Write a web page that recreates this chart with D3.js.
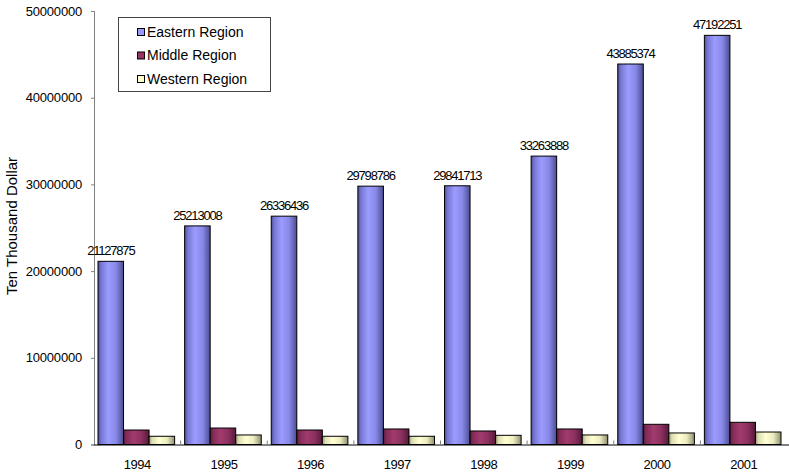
<!DOCTYPE html>
<html>
<head>
<meta charset="utf-8">
<script src="https://cdn.jsdelivr.net/npm/d3@7"></script>
<style>
  html, body { margin: 0; padding: 0; background: #fff; }
  svg { display: block; font-family: "Liberation Sans", Arial, sans-serif; }
</style>
</head>
<body>
<svg id="chart" width="789" height="475"></svg>
<script>
const years = ["1994", "1995", "1996", "1997", "1998", "1999", "2000", "2001"];
const seriesNames = ["Eastern Region", "Middle Region", "Western Region"];
const eastern = [21127875, 25213008, 26336436, 29798786, 29841713, 33263888, 43885374, 47192251];
const middle  = [1670000, 1900000, 1670000, 1790000, 1560000, 1790000, 2330000, 2560000];
const western = [950000, 1100000, 950000, 950000, 1060000, 1100000, 1330000, 1440000];
const yTicks = [0, 10000000, 20000000, 30000000, 40000000, 50000000];
const yTitle = "Ten Thousand Dollar";

(function () {
const seriesValues = [eastern, middle, western];
const baseColors = ["#9999FF", "#993366", "#FFFFCC"];
const gradStops = [
  [["0%", "#4f4f96"], ["12%", "#7676d2"], ["40%", "#9c9cff"], ["70%", "#8888e8"], ["100%", "#4c4c92"]],
  [["0%", "#5c1c3c"], ["12%", "#832c58"], ["40%", "#a23b6e"], ["70%", "#8c3060"], ["100%", "#571a39"]],
  [["0%", "#9a9a7a"], ["12%", "#dedeb4"], ["40%", "#ffffd2"], ["70%", "#ececc0"], ["100%", "#8e8e70"]]
];

const svg = d3.select("#chart");
const mLeft = 94, mRight = 787, mTop = 11, mBottom = 444.5;

const x = d3.scaleBand().domain(years).range([mLeft, mRight]).padding(0);
const xs = d3.scaleBand().domain(seriesNames).range([4, x.bandwidth() - 6]).padding(0);
const y = d3.scaleLinear().domain([0, 50000000]).range([mBottom, mTop]);

const defs = svg.append("defs");
seriesNames.forEach((s, i) => {
  const g = defs.append("linearGradient").attr("id", "grad" + i)
    .attr("x1", "0%").attr("x2", "100%").attr("y1", "0%").attr("y2", "0%");
  gradStops[i].forEach(st => g.append("stop").attr("offset", st[0]).attr("stop-color", st[1]));
});

// Y axis
const yAxis = d3.axisLeft(y).tickValues(yTicks).tickSize(3).tickPadding(9).tickFormat(d3.format("d"));
const ya = svg.append("g").attr("transform", `translate(${mLeft},0)`).call(yAxis);
ya.select(".domain").attr("stroke", "#808080");
ya.selectAll(".tick line").attr("stroke", "#808080");
ya.selectAll(".tick text").attr("font-size", "13px").attr("letter-spacing", "-0.2px").attr("fill", "#000")
  .attr("font-family", "'Liberation Sans', Arial, sans-serif");

// Y title
svg.append("text")
  .attr("transform", `translate(17,226) rotate(-90)`)
  .attr("text-anchor", "middle")
  .attr("font-size", "15px")
  .attr("fill", "#000")
  .text(yTitle);

// Bars
const groups = svg.append("g").selectAll("g").data(years).join("g")
  .attr("transform", d => `translate(${x(d)},0)`);

seriesNames.forEach((s, si) => {
  groups.append("rect")
    .attr("x", xs(s))
    .attr("width", xs.bandwidth())
    .attr("y", (d, i) => y(seriesValues[si][i]))
    .attr("height", (d, i) => y(0) - y(seriesValues[si][i]))
    .attr("fill", `url(#grad${si})`)
    .attr("stroke", "#000")
    .attr("stroke-width", 1);
});

// X axis
const xAxis = d3.axisBottom(x).tickSize(0).tickPadding(15);
const xa = svg.append("g").attr("transform", `translate(0,${mBottom})`).call(xAxis);
xa.select(".domain").attr("stroke", "#000").attr("d", `M${mLeft},0.5H789`);
xa.selectAll(".tick text").attr("font-size", "13px").attr("letter-spacing", "-0.5px").attr("fill", "#000")
  .attr("font-family", "'Liberation Sans', Arial, sans-serif");
svg.append("g").selectAll("line").data(years.slice(1)).join("line")
  .attr("x1", d => x(d)).attr("x2", d => x(d))
  .attr("y1", mBottom).attr("y2", mBottom - 4)
  .attr("stroke", "#808080");

// Data labels for Eastern
groups.append("text")
  .attr("x", xs(seriesNames[0]) + xs.bandwidth() / 2)
  .attr("y", (d, i) => y(eastern[i]) - 6)
  .attr("text-anchor", "middle")
  .attr("font-size", "13px")
  .attr("letter-spacing", "-1.2px")
  .attr("fill", "#000")
  .text((d, i) => eastern[i]);

// Legend
const lg = svg.append("g");
lg.append("rect").attr("x", 118.5).attr("y", 17.5).attr("width", 152).attr("height", 74)
  .attr("fill", "#fff").attr("stroke", "#444").attr("stroke-width", 1);
const rowsY = [32, 55.5, 79];
seriesNames.forEach((s, i) => {
  lg.append("rect").attr("x", 137.5).attr("y", rowsY[i] - 3.5).attr("width", 7).attr("height", 7)
    .attr("fill", baseColors[i]).attr("stroke", "#000").attr("stroke-width", 1);
  lg.append("text").attr("x", 147).attr("y", rowsY[i]).attr("dy", "0.35em")
    .attr("font-size", "14px").attr("fill", "#000").text(s);
});
})();
</script>
</body>
</html>
